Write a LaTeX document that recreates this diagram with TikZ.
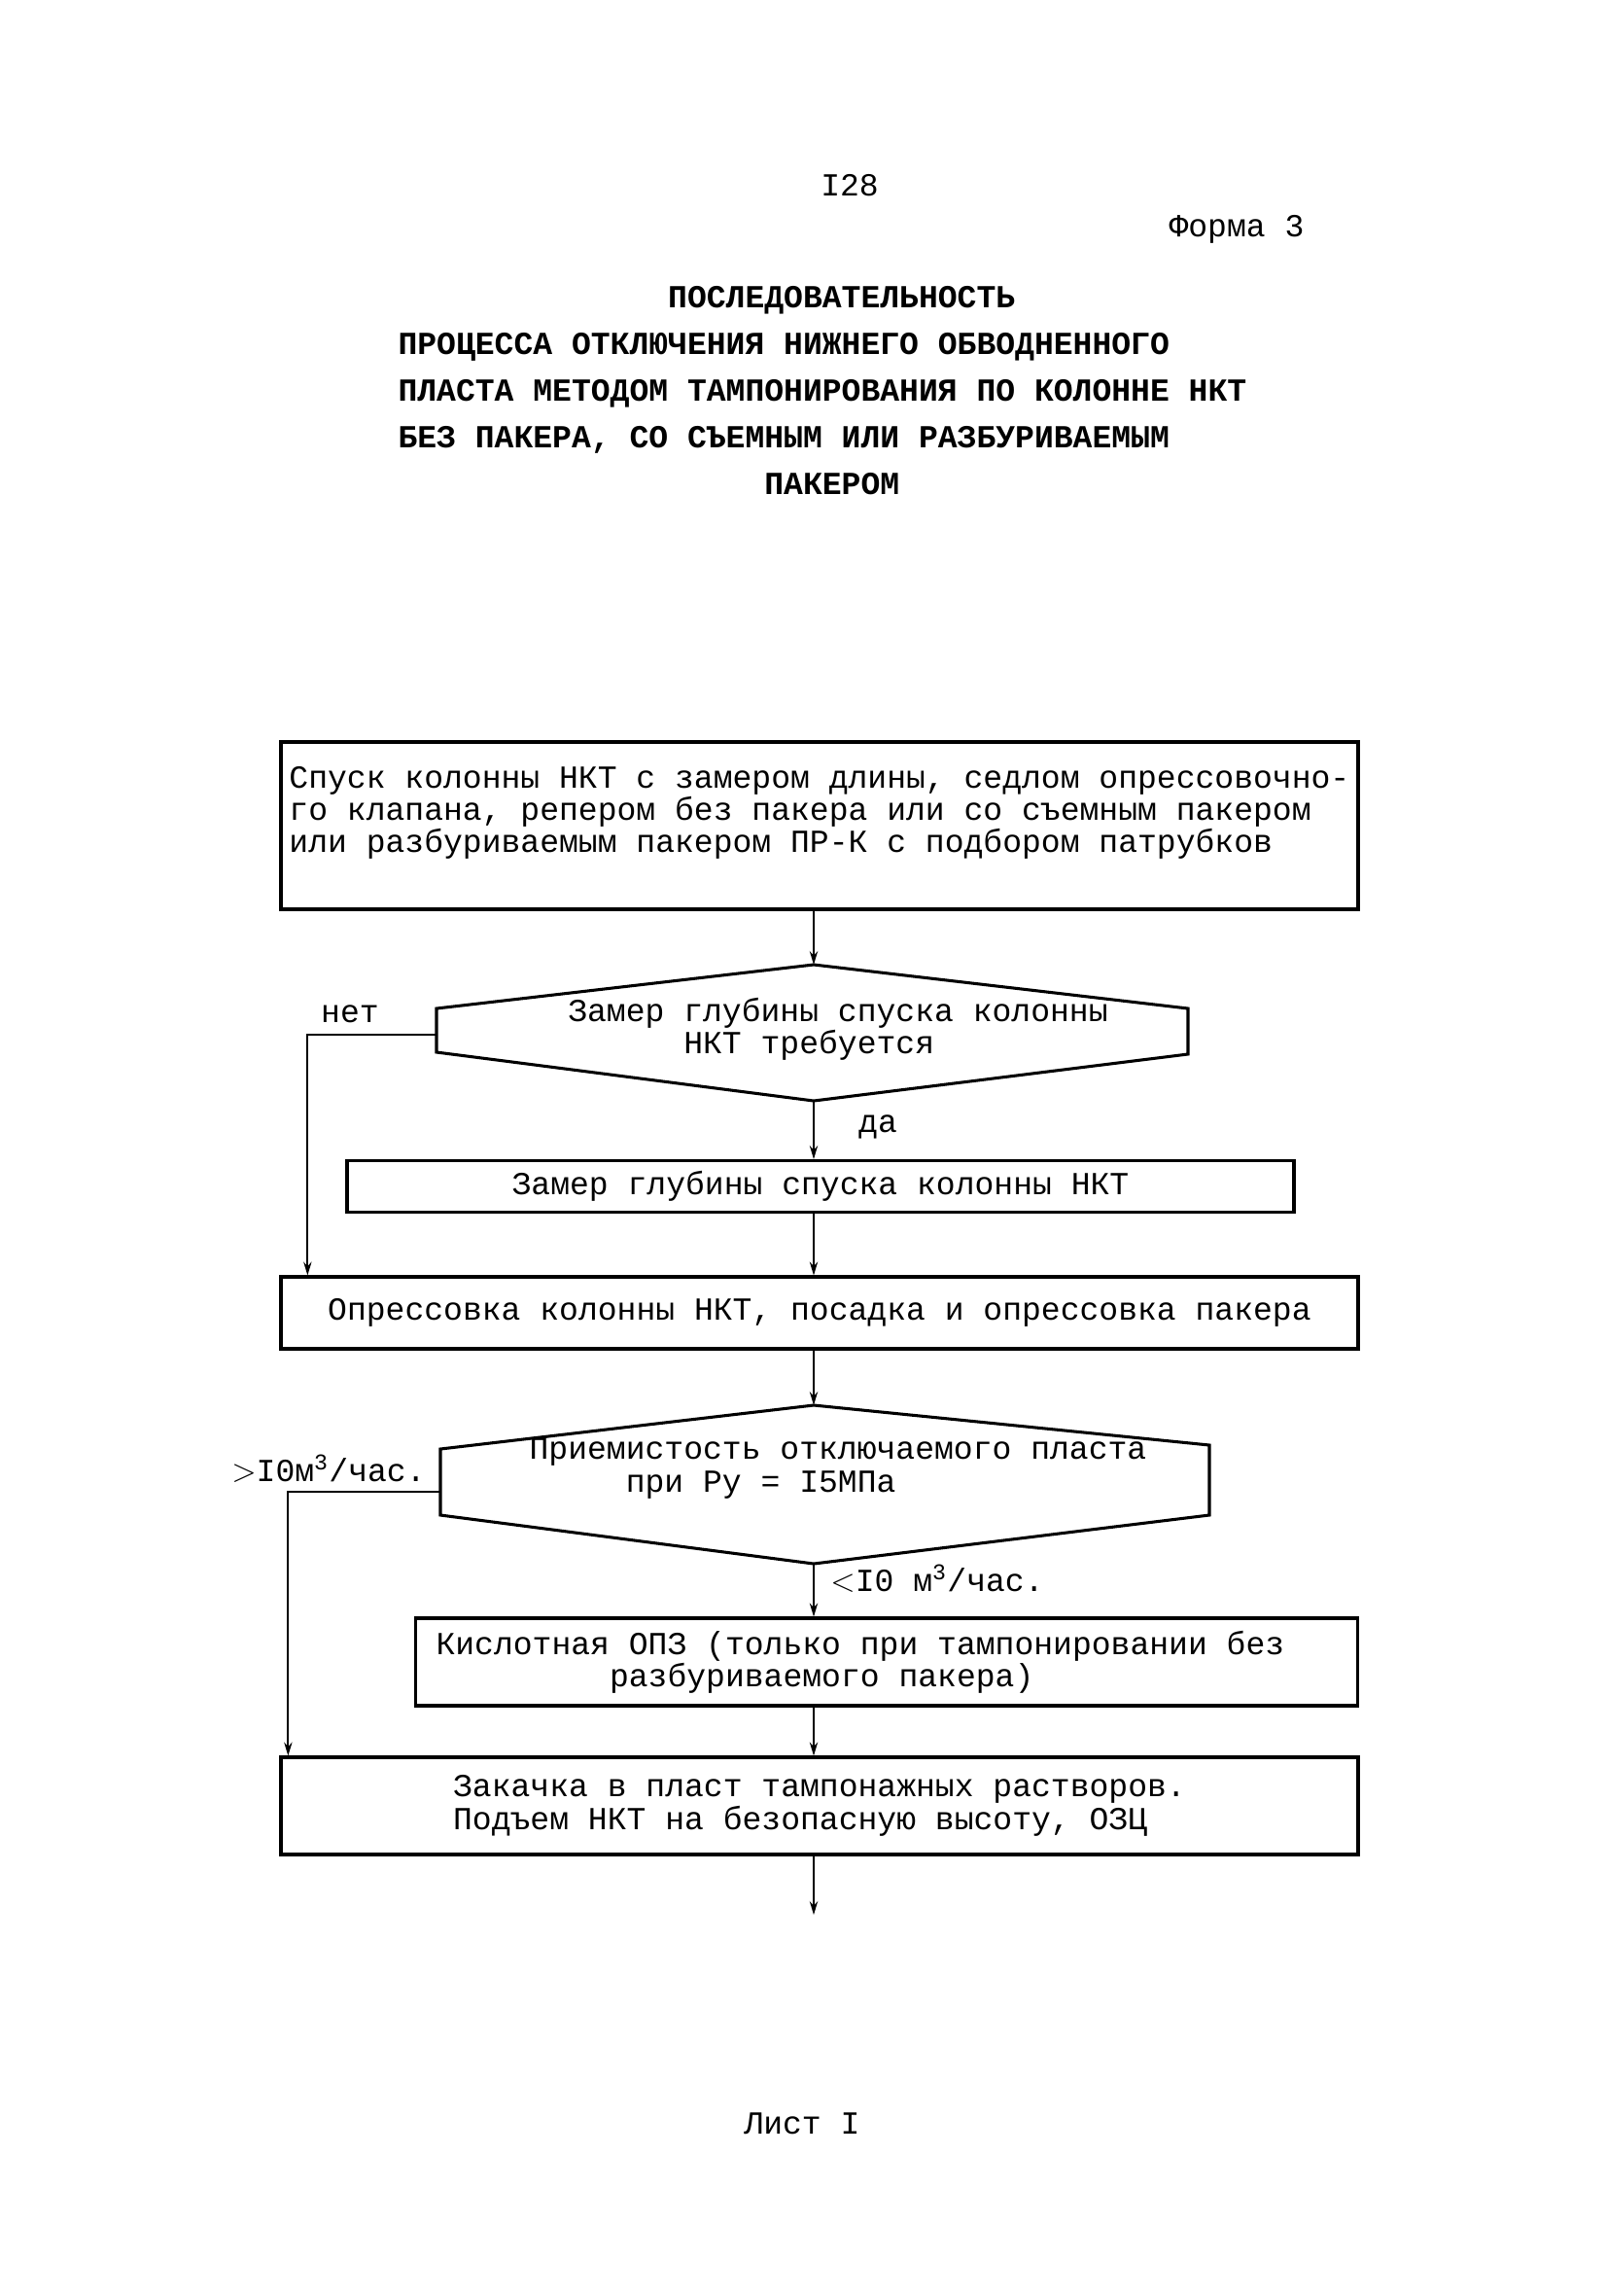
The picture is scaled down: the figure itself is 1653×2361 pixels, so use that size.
\documentclass[tikz,border=0pt]{standalone}
\usepackage{fontspec}
\setmainfont{Liberation Mono}[WordSpace={1,0,0}]
\frenchspacing
\usetikzlibrary{arrows.meta}
\newcommand{\pismo}{\fontsize{11.9pt}{12pt}\selectfont}
\tikzset{
  blok/.style 2 args={draw, line width=1.1pt, inner sep=0pt, align=left,
    minimum width=#1*0.36pt, minimum height=#2*0.36pt},
  romb/.style={line width=1.1pt, line join=miter},
  linia/.style={line width=0.7pt, -{Stealth[length=5pt,width=3pt]}},
  metka/.style={inner sep=0pt}
}
\begin{document}
\begin{tikzpicture}[x=0.36pt, y=-0.36pt, font=\pismo]
  \useasboundingbox (0,0) rectangle (1653,2361);
  % page head
  \node[metka] (nomer) at (874,191) {I28};
  \node[metka] (forma) at (1272,236) {Форма 3};
  \node[metka, anchor=base west, align=left, font=\fontsize{11.9pt}{17.2pt}\selectfont\bfseries] (zag) at (409,508)
    {\hspace*{8.4em}ПОСЛЕДОВАТЕЛЬНОСТЬ\\
     ПРОЦЕССА ОТКЛЮЧЕНИЯ НИЖНЕГО ОБВОДНЕННОГО\\
     ПЛАСТА МЕТОДОМ ТАМПОНИРОВАНИЯ ПО КОЛОННЕ НКТ\\
     БЕЗ ПАКЕРА, СО СЪЕМНЫМ ИЛИ РАЗБУРИВАЕМЫМ\\
     \hspace*{11.4em}ПАКЕРОМ};

  % boxes
  \node[blok={1108}{172}] (b1) at (843,849)
    {Спуск колонны НКТ с замером длины, седлом опрессовочно-\\
     го клапана, репером без пакера или со съемным пакером\\
     или разбуриваемым пакером ПР-К с подбором патрубков\\
     \mbox{}};
  \node[blok={974}{53}] (b2) at (844,1220) {Замер глубины спуска колонны НКТ};
  \node[blok={1108}{74}] (b3) at (843,1350) {Опрессовка колонны НКТ, посадка и опрессовка пакера};
  \node[blok={969}{90}, text width=333.7pt] (b4) at (912,1709)
    {\spaceskip=0pt\relax Кислотная ОПЗ (только при тампонировании без\\
     \hspace*{5.4em}разбуриваемого пакера)};
  \node[blok={1108}{100}] (b5) at (843,1857)
    {Закачка в пласт тампонажных растворов.\\
     Подъем НКТ на безопасную высоту, ОЗЦ};

  % decisions
  \coordinate (d1t) at (837,992);
  \coordinate (d1b) at (837,1132);
  \coordinate (d1l) at (449,1064);
  \draw[romb] (d1t) -- (1222,1037) -- (1222,1084) -- (d1b) -- (449,1082) -- (449,1037) -- cycle;
  \node[metka, align=left] (d1) at (862,1058)
    {Замер глубины спуска колонны\\ \hspace*{3.6em}НКТ требуется};

  \coordinate (d2t) at (837,1445);
  \coordinate (d2b) at (837,1608);
  \coordinate (d2l) at (453,1534);
  \draw[romb] (d2t) -- (1244,1486) -- (1244,1558) -- (d2b) -- (453,1558) -- (453,1490) -- cycle;
  \node[metka, align=left] (d2) at (862,1510)
    {Приемистость отключаемого пласта\\ \hspace*{3em}при Ру = I5МПа};

  \coordinate (konec) at (837,1969);

  % connectors
  \draw[linia] (b1.south -| d1t) -- (d1t);
  \draw[linia] (d1b) -- (d1b |- b2.north);
  \draw[linia] (b2.south -| d1b) -- (b3.north -| d1b);
  \draw[linia] (d1l) -| ([xshift=10.4pt]b3.north west);
  \draw[linia] (b3.south -| d2t) -- (d2t);
  \draw[linia] (d2b) -- (d2b |- b4.north);
  \draw[linia] (d2l) -| ([xshift=3.2pt]b5.north west);
  \draw[linia] (b4.south -| d2b) -- (b5.north -| d2b);
  \draw[linia] (b5.south -| d2b) -- (konec);

  % labels
  \node[metka] (net) at (360,1043) {нет};
  \node[metka] (da) at (903,1159) {да};
  \node[metka] (bolshe) at (338,1510) {$>$I0м\textsuperscript{3}/час.};
  \node[metka] (menshe) at (964,1623) {$<$I0 м\textsuperscript{3}/час.};

  % foot
  \node[metka] (list) at (825,2184) {Лист I};
\end{tikzpicture}
\end{document}
